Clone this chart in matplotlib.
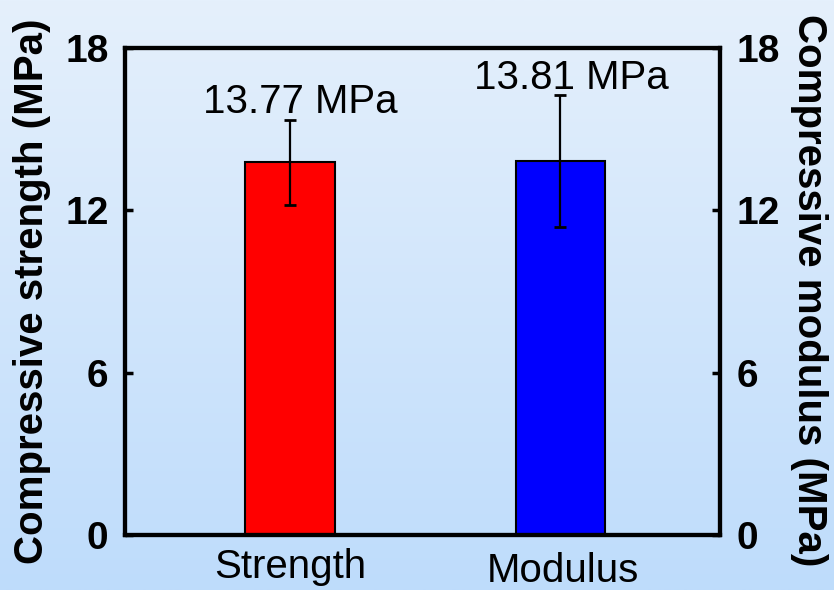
import numpy as np
import matplotlib
matplotlib.use("Agg")
import matplotlib.pyplot as plt
import matplotlib.transforms as mtransforms
from matplotlib.colors import LinearSegmentedColormap

plt.rcParams['font.family'] = ['Liberation Sans', 'DejaVu Sans']

categories = ["Strength", "Modulus"]
values = [13.77, 13.81]
errors = [1.58, 2.44]
bar_colors = ["#ff0000", "#0000ff"]
value_labels = ["13.77 MPa", "13.81 MPa"]
yticks = [0, 6, 12, 18]

fig = plt.figure(figsize=(8.34, 5.90), dpi=100)

# gradient background
bg = fig.add_axes([0, 0, 1, 1], zorder=-10)
cmap = LinearSegmentedColormap.from_list("bg", ["#e5f0fc", "#bedcfb"])
grad = np.linspace(0, 1, 256).reshape(-1, 1)
bg.imshow(grad, aspect="auto", cmap=cmap, extent=[0, 1, 0, 1], origin="upper")
bg.axis("off")

ax = fig.add_axes([0.150, 0.0932, 0.713, 0.8254])
ax.patch.set_alpha(0)
x = np.arange(len(categories))
ax.bar(x, values, width=0.33, color=bar_colors, edgecolor="black", linewidth=1.5, zorder=2)
ax.errorbar(x, values, yerr=errors, fmt="none", ecolor="black", elinewidth=1.6,
            capsize=4, capthick=2, zorder=3)

ax.set_xlim(-0.61, 1.59)
ax.set_ylim(0, 18)
ax.set_yticks(yticks)
ax.set_yticklabels([str(t) for t in yticks], fontsize=28, fontweight="bold")
ax.set_xticks(x)
ax.set_xticklabels(categories, fontsize=29)
ax.tick_params(axis="x", length=0, pad=9)
ax.tick_params(axis="y", direction="in", length=6, width=2.5, pad=12)
for s in ax.spines.values():
    s.set_linewidth(3)
# second category label sits slightly lower in the reference
lbls = ax.get_xticklabels()
lbls[1].set_transform(lbls[1].get_transform() +
                      mtransforms.ScaledTranslation(0.03, -0.04, fig.dpi_scale_trans))

ax2 = ax.twinx()
ax2.set_ylim(0, 18)
ax2.set_yticks(yticks)
ax2.set_yticklabels([str(t) for t in yticks], fontsize=28, fontweight="bold")
ax2.tick_params(axis="y", direction="in", length=6, width=2.5, pad=12)
for s in ax2.spines.values():
    s.set_linewidth(3)

# value annotations
for i in range(len(values)):
    ax.text(x[i] + 0.04, values[i] + errors[i] + 0.25, value_labels[i],
            ha="center", va="baseline", fontsize=29)

fig.text(0.038, 0.507, "Compressive strength (MPa)", rotation=90, ha="center", va="center",
         fontsize=29, fontweight="bold")
fig.text(0.970, 0.508, "Compressive modulus (MPa)", rotation=270, ha="center", va="center",
         fontsize=29, fontweight="bold")

fig.savefig("out.png", dpi=100)
